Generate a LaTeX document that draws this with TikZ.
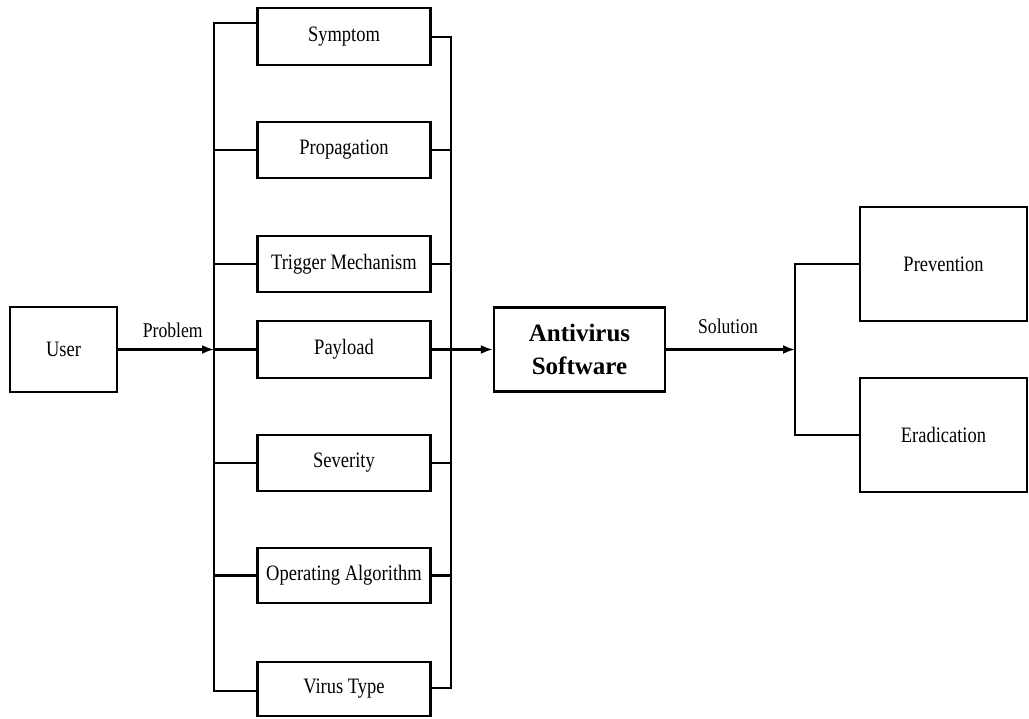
\documentclass[tikz,border=0pt]{standalone}
\usepackage{fontspec}
\setmainfont{Liberation Serif}
\newfontfamily\condfont[FakeStretch=0.84]{Liberation Serif}
\usetikzlibrary{arrows.meta}
\begin{document}
\begin{tikzpicture}[x=1pt,y=-1pt,
  box/.style={draw, line width=2.4pt, minimum width=173pt, inner sep=0pt,
    font=\condfont\fontsize{22}{24}\selectfont},
  conn/.style={line width=2.2pt},
  arr/.style={line width=2.2pt, -{Latex[length=12pt,width=9pt]}},
  lbl/.style={inner sep=0pt, font=\condfont\fontsize{21}{24}\selectfont}]
\useasboundingbox (0,0) rectangle (1029,719);
% left column
\node[box, minimum width=107pt, minimum height=85pt] (user) at (63.5,349.5) {User};
\node[box, minimum height=57pt] (symptom) at (344,36.5) {Symptom};
\node[box, minimum height=56pt] (propagation) at (344,150) {Propagation};
\node[box, minimum height=56pt] (trigger) at (344,264) {Trigger Mechanism};
\node[box, minimum height=57pt] (payload) at (344,349.5) {Payload};
\node[box, minimum height=56pt] (severity) at (344,463) {Severity};
\node[box, minimum height=55pt] (operating) at (344,575.5) {Operating Algorithm};
\node[box, minimum height=54pt] (virus) at (344,689) {Virus Type};
% centre
\node[box, minimum width=171pt, minimum height=84pt, align=center,
  font=\bfseries\fontsize{25}{33}\selectfont] (av) at (579.5,349.5) {Antivirus\\Software};
% right
\node[box, minimum width=167pt, minimum height=114pt] (prevention) at (943.5,264) {Prevention};
\node[box, minimum width=167pt, minimum height=114pt] (eradication) at (943.5,435) {Eradication};
% bus coordinates
\coordinate (lbtop) at (214,23);
\coordinate (lbbot) at (214,691);
\coordinate (rbtop) at (451,37);
\coordinate (rbbot) at (451,688);
\coordinate (sbtop) at (795,264);
\coordinate (sbbot) at (795,435);
% left bus
\draw[conn] (symptom.west |- lbtop) -- (lbtop) -- (lbbot) -- (virus.west |- lbbot);
\foreach \n in {propagation,trigger,payload,severity,operating}
  \draw[conn] (lbtop |- \n.west) -- (\n.west);
% right bus
\draw[conn] (symptom.east |- rbtop) -- (rbtop) -- (rbbot) -- (virus.east |- rbbot);
\foreach \n in {propagation,trigger,severity,operating}
  \draw[conn] (\n.east) -- (rbtop |- \n.east);
% arrows
\draw[arr] (user.east) -- (lbtop |- user.east)
  node[lbl, pos=0.57, above=11pt] (problem) {Problem};
\draw[arr] (payload.east) -- (av.west);
\draw[arr] (av.east) -- (sbtop |- av.east)
  node[lbl, pos=0.48, above=15pt] (solution) {Solution};
% solution bus
\draw[conn] (prevention.west) -- (sbtop) -- (sbbot) -- (eradication.west);
\end{tikzpicture}
\end{document}
